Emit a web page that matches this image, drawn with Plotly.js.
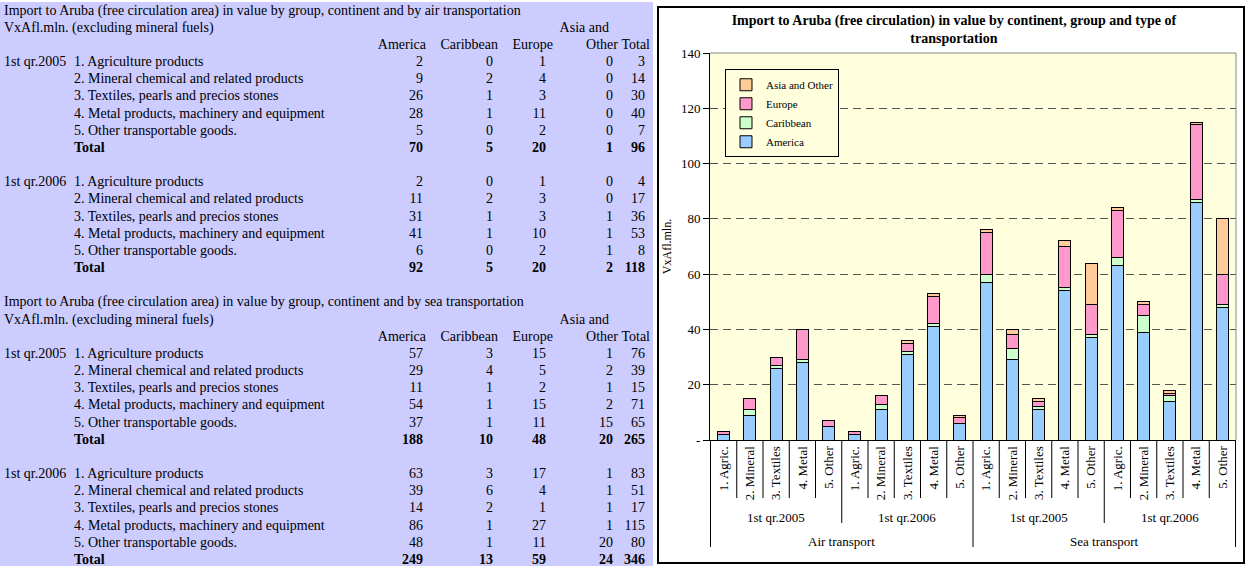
<!DOCTYPE html>
<html>
<head>
<meta charset="utf-8">
<script src="https://cdn.plot.ly/plotly-3.0.1.min.js"></script>
<style>
  body { margin: 0; width: 1246px; height: 566px; background: #fff; overflow: hidden; position: relative;
         font-family: "Liberation Serif", "Times New Roman", serif; }
  #sheet { position: absolute; left: 0; top: 2px; width: 653px; height: 564px; background: #ccccff;
           font-size: 14px; color: #000; }
  #sheet span { position: absolute; white-space: nowrap; line-height: 17px; }
  #frame { position: absolute; left: 657px; top: 6px; width: 588px; height: 558px;
           border: 2px solid #000; box-sizing: border-box; background: #fff; }
  #chart { width: 584px; height: 554px; }
</style>
</head>
<body>
<div id="sheet"></div>
<div id="frame"><div id="chart"></div></div>
<script>
// ---- data (VxAfl.mln.) ----
const transports = ["Air transport", "Sea transport"];
const modes = ["air", "sea"];
const quarters = ["1st qr.2005", "1st qr.2006"];
const products = ["1. Agriculture products", "2. Mineral chemical and related products",
  "3. Textiles, pearls and precios stones", "4. Metal products, machinery and equipment",
  "5. Other transportable goods."];
const shortProducts = ["1. Agric.", "2. Mineral", "3. Textiles", "4. Metal", "5. Other"];
const continents = ["America", "Caribbean", "Europe", "Asia and Other"];

// order: air 2005, air 2006, sea 2005, sea 2006 (5 groups each)
const america   = [2, 9, 26, 28, 5,   2, 11, 31, 41, 6,   57, 29, 11, 54, 37,   63, 39, 14, 86, 48];
const caribbean = [0, 2, 1, 1, 0,     0, 2, 1, 1, 0,      3, 4, 1, 1, 1,        3, 6, 2, 1, 1];
const europe    = [1, 4, 3, 11, 2,    1, 3, 3, 10, 2,     15, 5, 2, 15, 11,     17, 4, 1, 27, 11];
const asiaOther = [0, 0, 0, 0, 0,     0, 0, 1, 1, 1,      1, 2, 1, 2, 15,       1, 1, 1, 1, 20];
const rowTotals = [3, 14, 30, 40, 7,  4, 17, 36, 53, 8,   76, 39, 15, 71, 65,   83, 51, 17, 115, 80];
// column totals per block: America, Caribbean, Europe, Asia and Other, Total
const blockTotals = [[70, 5, 20, 1, 96], [92, 5, 20, 2, 118], [188, 10, 48, 20, 265], [249, 13, 59, 24, 346]];

const colors = ["#99ccff", "#ccffcc", "#ff99cc", "#ffcc99"];
const series = [america, caribbean, europe, asiaOther];

// ---- spreadsheet table ----
const sheet = document.getElementById("sheet");
const ROW_H = 17.17;
const headRight = [426, 498, 553, 618, 650];
const numRight = [423, 493, 546, 613, 645];
function put(row, text, x, right, bold) {
  const s = document.createElement("span");
  s.textContent = text;
  s.style.top = (row * ROW_H - 0.5) + "px";
  if (right) s.style.right = (653 - x) + "px"; else s.style.left = x + "px";
  if (bold) s.style.fontWeight = "bold";
  sheet.appendChild(s);
}
modes.forEach((m, t) => {
  const base = t * 17;
  put(base, "Import to Aruba (free circulation area) in value by group, continent and by " + m + " transportation", 4);
  put(base + 1, "VxAfl.mln. (excluding mineral fuels)", 4);
  put(base + 1, "Asia and", 609, true);
  ["America", "Caribbean", "Europe", "Other", "Total"].forEach((h, c) => put(base + 2, h, headRight[c], true));
  quarters.forEach((q, qi) => {
    const start = base + 3 + qi * 7;
    const blk = t * 2 + qi;
    put(start, q, 4);
    products.forEach((p, pi) => {
      const k = blk * 5 + pi;
      put(start + pi, p, 74);
      series.forEach((s, c) => put(start + pi, String(s[k]), numRight[c], true));
      put(start + pi, String(rowTotals[k]), numRight[4], true);
    });
    put(start + 5, "Total", 74, false, true);
    blockTotals[blk].forEach((v, c) => put(start + 5, String(v), numRight[c], true, true));
  });
});

// ---- chart ----
const cats = [];
const tickText = [];
transports.forEach(tr => quarters.forEach(q => shortProducts.forEach(p => {
  cats.push(tr + " | " + q + " | " + p);
  tickText.push(p);
})));

const serif = "Liberation Serif, Times New Roman, serif";
const traces = series.map((s, i) => ({
  type: "bar",
  name: continents[i],
  x: cats,
  y: s,
  marker: { color: colors[i], line: { color: "#000", width: 1 } },
  hoverinfo: "x+y+name"
}));

const shapes = [];
const annotations = [];
for (let b = 0; b <= cats.length; b++) {
  let y1 = -0.150;
  if (b % 5 === 0) y1 = -0.2145;
  if (b % 10 === 0) y1 = -0.2765;
  shapes.push({ type: "line", xref: "x", yref: "paper", x0: b - 0.5, x1: b - 0.5, y0: 0, y1: y1,
    line: { color: "#000", width: 1 } });
}
transports.forEach((tr, t) => {
  quarters.forEach((q, qi) => {
    annotations.push({ xref: "x", yref: "paper", x: t * 10 + qi * 5 + 2, y: -0.199, text: q,
      showarrow: false, font: { family: serif, size: 13, color: "#000" }, yanchor: "middle" });
  });
  annotations.push({ xref: "x", yref: "paper", x: t * 10 + 4.5, y: -0.263, text: tr,
    showarrow: false, font: { family: serif, size: 13, color: "#000" }, yanchor: "middle" });
});
// plot area border (top, right)
shapes.push({ type: "line", xref: "paper", yref: "paper", x0: 0, x1: 1, y0: 1, y1: 1, layer: "above",
  line: { color: "#888", width: 1 } });
shapes.push({ type: "line", xref: "paper", yref: "paper", x0: 1, x1: 1, y0: 0, y1: 1, layer: "above",
  line: { color: "#888", width: 1 } });

const yTicks = [0, 20, 40, 60, 80, 100, 120, 140];
const layout = {
  width: 584, height: 554,
  margin: { l: 51, r: 7, t: 45, b: 122 },
  paper_bgcolor: "#fff",
  plot_bgcolor: "#ffffdd",
  barmode: "stack",
  bargap: 0.55,
  font: { family: serif, size: 12, color: "#000" },
  title: {
    text: "<b>Import to Aruba (free circulation) in value by continent, group and type of<br>transportation</b>",
    font: { family: serif, size: 14, color: "#000" },
    x: 0.505, xanchor: "center", y: 0.969, yanchor: "middle"
  },
  xaxis: {
    type: "category",
    tickvals: cats, ticktext: tickText,
    tickangle: -90,
    tickfont: { family: serif, size: 13 },
    showline: true, linecolor: "#000", linewidth: 1,
    ticks: "", showgrid: false, fixedrange: true
  },
  yaxis: {
    range: [0, 140],
    tickvals: yTicks,
    ticktext: yTicks.map(v => v === 0 ? "-" : String(v)),
    ticks: "outside", ticklen: 6, tickcolor: "#000",
    tickfont: { family: serif, size: 13 },
    showline: true, linecolor: "#000", linewidth: 1,
    showgrid: true, gridcolor: "#555", griddash: "8px,5px", gridwidth: 1,
    zeroline: false,
    title: { text: "VxAfl.mln.", font: { family: serif, size: 12 }, standoff: 6 },
    fixedrange: true
  },
  showlegend: true,
  legend: {
    x: 0.0285, y: 0.958, xanchor: "left", yanchor: "top",
    bgcolor: "#ffffdd", bordercolor: "#000", borderwidth: 1,
    font: { family: serif, size: 11 },
    traceorder: "reversed", tracegroupgap: 0, itemwidth: 30
  },
  shapes: shapes,
  annotations: annotations
};

Plotly.newPlot("chart", traces, layout, { displayModeBar: false, staticPlot: true });
</script>
</body>
</html>
